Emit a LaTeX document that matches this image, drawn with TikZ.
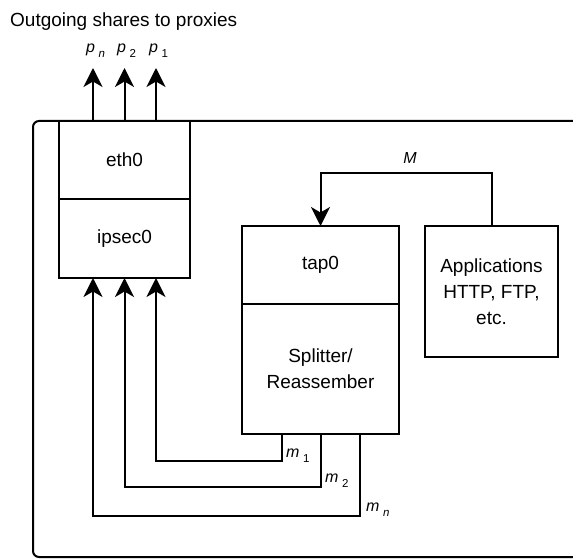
\documentclass[tikz,border=0pt]{standalone}
\usepackage{fontspec}
\setmainfont{Liberation Sans}
\usetikzlibrary{arrows.meta}
\newcommand\sublbl[2]{\fontsize{16}{16}\selectfont\textit{#1}\hspace{3.5pt}\raisebox{-5pt}{\fontsize{11.5}{11.5}\selectfont #2}}
\tikzset{
  box/.style={draw, line width=2pt, rectangle, inner sep=0pt, outer sep=0pt, align=center,
    font=\fontsize{19}{26}\selectfont},
  conn/.style={line width=2pt},
  arr/.style={line width=2pt, -{Stealth[length=19pt,width=19pt,inset=5.5pt]}},
  lbl/.style={anchor=base west, inner sep=0pt}
}
\begin{document}
\begin{tikzpicture}[x=1pt,y=-1pt]
\useasboundingbox (0,0) rectangle (573,559);
\clip (0,0) rectangle (573,559);
% outer container
\draw[line width=2pt, rounded corners=6] (33,121) rectangle (640,557);
% title
\node[lbl, font=\fontsize{19}{20}\selectfont] (title) at (10,27) {Outgoing shares to proxies};
% boxes
\node[box, minimum width=131, minimum height=78] (eth0) at (124.5,160) {eth0};
\node[box, minimum width=131, minimum height=79] (ipsec0) at (124.5,238.5) {ipsec0};
\node[box, minimum width=157, minimum height=78] (tap0) at (320.5,265) {tap0};
\node[box, minimum width=157, minimum height=130] (split) at (320.5,369) {Splitter/\\Reassember};
\node[box, minimum width=133, minimum height=131] (apps) at (491.5,291.5) {Applications\\HTTP, FTP,\\etc.};
% outgoing arrows
\coordinate (xn) at (93,68);
\coordinate (x2) at (124.5,68);
\coordinate (x1) at (156,68);
\draw[arr] (xn |- eth0.north) -- (xn);
\draw[arr] (x2 |- eth0.north) -- (x2);
\draw[arr] (x1 |- eth0.north) -- (x1);
\node[lbl] (pn) at (86,52.5) {\sublbl{p}{\textit{n}}};
\node[lbl] (p2) at (117,52.5) {\sublbl{p}{2}};
\node[lbl] (p1) at (149,52.5) {\sublbl{p}{1}};
% M arrow
\coordinate (Mc) at (400,173);
\draw[arr] (apps.north) |- (Mc) -| (tap0.north);
\node[anchor=base, inner sep=0pt, font=\fontsize{16}{16}\selectfont] (Mlbl) at (410,164) {\textit{M}};
% m connectors
\coordinate (m1c) at (282,461);
\coordinate (m2c) at (321,487);
\coordinate (mnc) at (360,516);
\draw[arr] (m1c |- split.south) -- (m1c) -| (x1 |- ipsec0.south);
\draw[arr] (m2c |- split.south) -- (m2c) -| (x2 |- ipsec0.south);
\draw[arr] (mnc |- split.south) -- (mnc) -| (xn |- ipsec0.south);
\node[lbl] (m1) at (286,457) {\sublbl{m}{1}};
\node[lbl] (m2) at (325,482) {\sublbl{m}{2}};
\node[lbl] (mn) at (366,511) {\sublbl{m}{\textit{n}}};
\end{tikzpicture}
\end{document}
